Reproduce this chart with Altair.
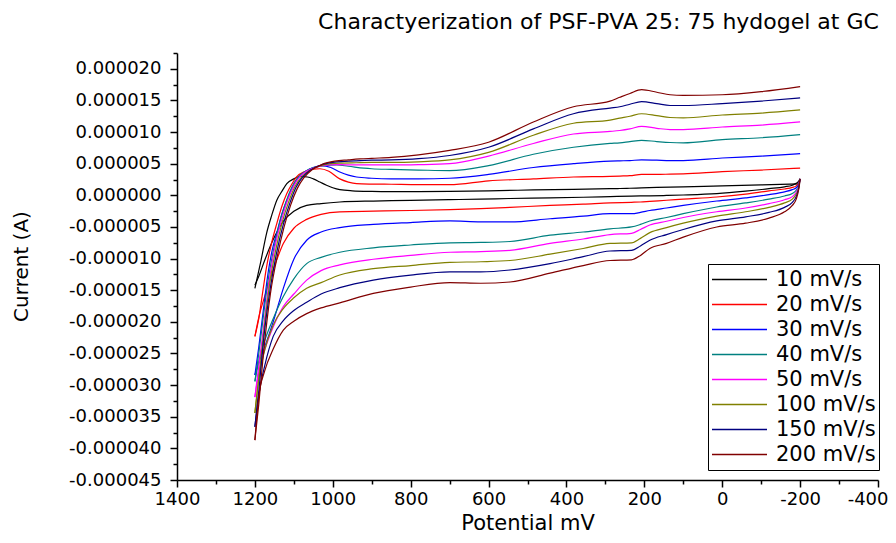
import altair as alt
import pandas as pd

SERIES = ["10 mV/s", "20 mV/s", "30 mV/s", "40 mV/s", "50 mV/s", "100 mV/s", "150 mV/s", "200 mV/s"]
COLORS = ["#000000", "#FF0000", "#0000FF", "#008080", "#FF00FF", "#808000", "#000080", "#800000"]

# ---- forward (upper) branch, left part: potential (mV) and current (µA) ----
UPL_P_10 = [1200, 1185, 1170, 1157, 1144, 1130, 1118, 1100, 1084, 1065, 1050, 1033, 1016, 1000, 982, 950, 900]
UPL_I_10 = [-14.7, -10.5, -6.0, -3.2, -0.8, 0.7, 1.85, 2.6, 3.0, 2.9, 2.6, 2.1, 1.6, 1.2, 0.9, 0.72, 0.63]
UPL_P_20 = [1200, 1190, 1183, 1170, 1157, 1144, 1130, 1118, 1105, 1093, 1070, 1050, 1033, 1010, 982, 960, 939, 900]
UPL_I_20 = [-22.3, -19.5, -16.6, -11.3, -7.5, -4.5, -1.6, 0.3, 1.8, 2.9, 3.8, 4.15, 4.2, 3.8, 2.6, 2.1, 1.85, 1.78]
UPL_P_30 = [1200, 1190, 1180, 1165, 1155, 1144, 1130, 1118, 1105, 1093, 1080, 1067, 1050, 1028, 1005, 982, 960, 939, 900]
UPL_I_30 = [-28.4, -24.0, -19.0, -11.8, -8.5, -6.0, -2.8, -0.8, 1.0, 2.4, 3.3, 3.9, 4.4, 4.7, 4.4, 3.7, 3.2, 2.9, 2.7]
UPL_P_40 = [1200, 1190, 1180, 1165, 1150, 1135, 1120, 1105, 1090, 1070, 1050, 1020, 990, 960, 920, 900]
UPL_I_40 = [-29.4, -25.0, -20.0, -13.0, -8.0, -4.0, -1.0, 1.3, 2.8, 3.8, 4.4, 4.7, 4.8, 4.6, 4.3, 4.2]
UPL_P_50 = [1200, 1190, 1178, 1162, 1148, 1132, 1116, 1100, 1085, 1065, 1040, 1010, 980, 950, 900]
UPL_I_50 = [-31.9, -27.0, -21.0, -13.0, -8.0, -4.0, -0.8, 1.5, 2.9, 3.9, 4.5, 4.8, 4.85, 4.8, 4.8]
UPL_P_100 = [1200, 1190, 1178, 1162, 1146, 1130, 1113, 1097, 1080, 1060, 1035, 1005, 975, 940, 900]
UPL_I_100 = [-34.4, -29.0, -22.0, -14.0, -8.5, -4.3, -1.0, 1.4, 2.9, 3.9, 4.6, 5.0, 5.1, 5.15, 5.2]
UPL_P_150 = [1200, 1190, 1178, 1160, 1144, 1127, 1110, 1094, 1077, 1057, 1030, 1000, 970, 940, 900]
UPL_I_150 = [-36.6, -31.0, -23.0, -14.5, -9.0, -4.6, -1.2, 1.3, 2.9, 4.0, 4.8, 5.2, 5.35, 5.45, 5.55]
UPL_P_200 = [1200, 1190, 1178, 1160, 1142, 1125, 1108, 1091, 1074, 1054, 1027, 995, 960, 930, 900]
UPL_I_200 = [-38.7, -33.0, -25.0, -15.5, -9.5, -5.0, -1.5, 1.1, 2.8, 4.0, 4.9, 5.4, 5.6, 5.75, 5.85]

# ---- forward (upper) branch, right part (shared potentials) ----
UPR_P = [850, 780, 700, 600, 485, 382, 288, 263, 237, 207, 168, 134, 100, 0, -100, -200]
UPR_I_10 = [0.6, 0.6, 0.63, 0.72, 0.85, 0.95, 1.05, 1.08, 1.12, 1.18, 1.25, 1.3, 1.35, 1.5, 1.65, 1.8]
UPR_I_20 = [1.75, 1.7, 1.7, 2.3, 2.6, 2.9, 3.0, 3.05, 3.1, 3.3, 3.3, 3.35, 3.4, 3.75, 4.0, 4.3]
UPR_I_30 = [2.6, 2.6, 2.7, 3.3, 4.4, 5.0, 5.4, 5.45, 5.5, 5.6, 5.55, 5.5, 5.5, 5.9, 6.2, 6.6]
UPR_I_40 = [4.1, 4.0, 3.9, 4.7, 6.5, 7.6, 8.2, 8.3, 8.5, 8.7, 8.5, 8.35, 8.3, 8.8, 9.1, 9.6]
UPR_I_50 = [4.8, 4.85, 5.0, 6.2, 8.2, 9.7, 10.1, 10.25, 10.5, 10.9, 10.6, 10.4, 10.4, 10.8, 11.1, 11.6]
UPR_I_100 = [5.2, 5.3, 5.6, 6.8, 9.5, 11.4, 11.9, 12.2, 12.5, 12.9, 12.6, 12.3, 12.25, 12.7, 13.0, 13.5]
UPR_I_150 = [5.6, 5.8, 6.3, 7.6, 10.5, 12.9, 13.8, 14.0, 14.4, 14.8, 14.5, 14.2, 14.2, 14.5, 14.9, 15.4]
UPR_I_200 = [6.0, 6.4, 7.1, 8.4, 11.6, 14.0, 14.9, 15.5, 16.1, 16.7, 16.3, 15.9, 15.8, 15.9, 16.4, 17.2]

# ---- reverse (lower) branch (shared potentials) ----
LO_P = [-200, -196, -190, -180, -160, -120, -60, 14, 100, 143, 186, 210, 233, 288, 357, 442, 545, 620, 699,
        800, 896, 982, 1030, 1067, 1100, 1127, 1153, 1175, 1190, 1200]
LO_I_10 = [2.6, 2.2, 1.9, 1.6, 1.35, 1.05, 0.65, 0.26, 0.05, -0.02, -0.08, -0.1, -0.12, -0.2, -0.3, -0.4, -0.5,
           -0.6, -0.68, -0.8, -0.9, -1.05, -1.3, -1.6, -2.5, -4.1, -7.0, -10.3, -12.8, -14.2]
LO_I_20 = [2.6, 1.9, 1.5, 1.25, 1.0, 0.7, 0.2, -0.26, -0.6, -0.78, -0.95, -1.05, -1.1, -1.2, -1.4, -1.6, -1.9,
           -2.1, -2.26, -2.4, -2.5, -2.6, -3.0, -3.8, -5.2, -7.6, -11.8, -16.0, -19.3, -22.3]
LO_I_30 = [2.6, 1.7, 1.2, 0.9, 0.55, 0.1, -0.4, -0.9, -1.6, -2.0, -2.4, -2.7, -2.9, -2.9, -3.3, -3.7, -4.2,
           -4.2, -4.05, -4.3, -4.6, -5.1, -5.8, -7.1, -10.1, -14.7, -20.0, -24.0, -26.5, -28.4]
LO_I_40 = [2.6, 1.5, 0.8, 0.3, -0.1, -0.6, -1.2, -1.84, -2.9, -3.5, -4.05, -4.6, -5.0, -5.3, -5.8, -6.3, -7.3,
           -7.45, -7.5, -7.85, -8.3, -9.0, -9.8, -10.8, -13.2, -16.0, -19.5, -23.0, -26.3, -29.4]
LO_I_50 = [2.6, 1.3, 0.5, -0.2, -0.7, -1.3, -2.0, -2.6, -3.5, -4.1, -4.7, -5.4, -6.0, -6.2, -6.9, -7.6, -8.7,
           -8.9, -9.0, -9.5, -10.1, -11.0, -11.9, -13.4, -15.6, -17.6, -20.8, -24.5, -28.0, -31.9]
LO_I_100 = [2.6, 1.1, 0.2, -0.6, -1.2, -1.9, -2.6, -3.3, -4.4, -5.1, -5.9, -6.8, -7.5, -7.6, -8.4, -9.3, -10.3,
            -10.5, -10.6, -11.1, -11.6, -12.6, -13.8, -14.7, -16.2, -17.9, -20.5, -24.5, -29.0, -34.4]
LO_I_150 = [2.6, 1.0, -0.2, -1.1, -1.9, -2.7, -3.4, -4.05, -5.4, -6.2, -7.1, -8.0, -8.7, -8.8, -9.7, -10.8, -11.8,
            -12.1, -12.1, -12.6, -13.4, -14.6, -15.6, -16.9, -18.2, -19.8, -22.3, -27.0, -31.5, -36.6]
LO_I_200 = [2.6, 0.8, -0.6, -1.6, -2.6, -3.6, -4.4, -5.0, -6.6, -7.6, -8.4, -9.5, -10.2, -10.3, -11.1, -12.3, -13.7,
            -13.9, -13.8, -14.5, -15.5, -17.0, -17.8, -18.7, -19.9, -21.3, -24.3, -27.8, -31.8, -38.7]

X_TICKS = list(range(-400, 1401, 100))
Y_TICKS = [round(-45e-6 + k * 2.5e-6, 12) for k in range(28)]

UPL = [(UPL_P_10, UPL_I_10), (UPL_P_20, UPL_I_20), (UPL_P_30, UPL_I_30), (UPL_P_40, UPL_I_40),
       (UPL_P_50, UPL_I_50), (UPL_P_100, UPL_I_100), (UPL_P_150, UPL_I_150), (UPL_P_200, UPL_I_200)]
UPR = [UPR_I_10, UPR_I_20, UPR_I_30, UPR_I_40, UPR_I_50, UPR_I_100, UPR_I_150, UPR_I_200]
LO = [LO_I_10, LO_I_20, LO_I_30, LO_I_40, LO_I_50, LO_I_100, LO_I_150, LO_I_200]

rows = []
for s, (lp, li), ri, lo in zip(SERIES, UPL, UPR, LO):
    up_p = lp + UPR_P
    up_i = li + ri
    for k, (p, i) in enumerate(zip(up_p, up_i)):
        rows.append({"series": s, "branch": s + " up", "idx": k, "P": p, "I": i * 1e-6})
    for k, (p, i) in enumerate(zip(LO_P, lo)):
        rows.append({"series": s, "branch": s + " lo", "idx": k, "P": p, "I": i * 1e-6})
df = pd.DataFrame(rows)

FONT = "DejaVu Sans"
major_y = "abs(round(datum.value*200000) - datum.value*200000) < 0.01"
major_x = "datum.value % 200 == 0"
last_x = "datum.value == -400"

chart = alt.Chart(df).mark_line(strokeWidth=1.2, interpolate="monotone").encode(
    x=alt.X("P:Q",
            scale=alt.Scale(domain=[-400, 1400], reverse=True, nice=False, zero=False),
            axis=alt.Axis(values=X_TICKS, format="d", title="Potential mV",
                          labelExpr=f"{major_x} ? replace(datum.label, '\u2212', '-') : ''",
                          tickSize={"condition": {"test": major_x, "value": 7}, "value": 4},
                          labelAlign={"condition": {"test": last_x, "value": "right"}, "value": "center"},
                          labelOffset={"condition": {"test": last_x, "value": 10}, "value": 0},
                          labelPadding=3, titleY=32, titleBaseline="top", titleFontSize=21)),
    y=alt.Y("I:Q",
            scale=alt.Scale(domain=[-0.000045, 0.0000225], nice=False, zero=False),
            axis=alt.Axis(values=Y_TICKS, title="Current (A)",
                          labelExpr=f"{major_y} ? replace(format(datum.value, '.6f'), '\u2212', '-') : ''",
                          tickSize={"condition": {"test": major_y, "value": 7}, "value": 4},
                          labelPadding=9, titleX=-146, titleY=213, titleAngle=270)),
    color=alt.Color("series:N", scale=alt.Scale(domain=SERIES, range=COLORS),
                    legend=alt.Legend(title=None, orient="none", legendX=531, legendY=211,
                                      direction="vertical", fillColor="white", strokeColor="black",
                                      padding=3, symbolType="stroke", symbolSize=3025,
                                      symbolStrokeWidth=1.5, labelFont=FONT, labelFontSize=21,
                                      labelColor="black", labelOffset=8, clipHeight=25, rowPadding=0)),
    detail="branch:N",
    order="idx:Q",
).properties(
    width=701, height=427,
    background="white",
    autosize=alt.AutoSizeParams(type="none"),
    padding={"left": 169, "top": 45, "right": 10, "bottom": 55},
    title=alt.TitleParams("Charactyerization of PSF-PVA 25: 75 hydogel at GC", anchor="middle",
                          font=FONT, fontSize=22, fontWeight="normal", color="black", dx=71, offset=10),
).configure_view(stroke=None).configure_axis(
    grid=False, domainColor="black", domainWidth=1.5, tickColor="black", tickWidth=1.5,
    labelFont=FONT, labelFontSize=18, labelColor="black", labelOverlap=False, labelFlush=False,
    titleFont=FONT, titleFontSize=20, titleFontWeight="normal", titleColor="black",
)

chart.save("out.html", embed_options={"renderer": "svg", "actions": False})
